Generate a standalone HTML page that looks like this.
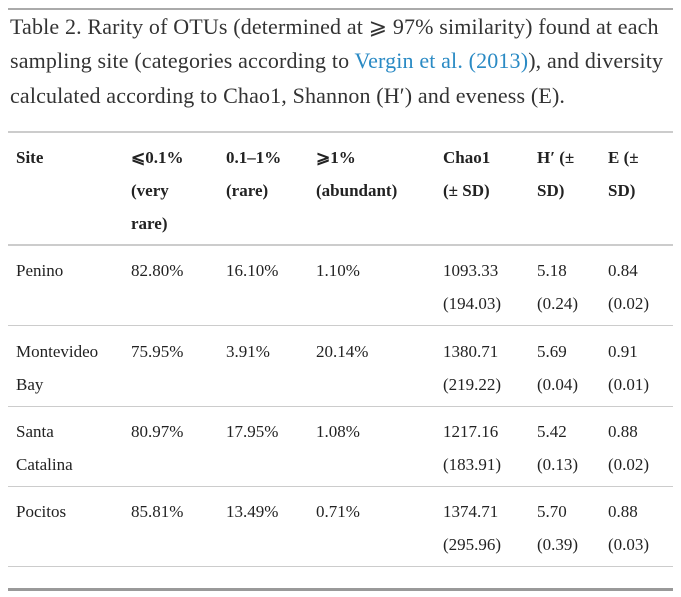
<!DOCTYPE html>
<html><head><meta charset="utf-8">
<style>
html,body{margin:0;padding:0;background:#fff;}
body{width:681px;height:597px;position:relative;overflow:hidden;font-family:"Liberation Serif",serif;color:#222;}
.t{position:absolute;white-space:nowrap;line-height:33px;height:33px;font-size:17px;}
.cap{position:absolute;left:10px;white-space:nowrap;font-size:22px;letter-spacing:0.15px;line-height:34px;color:#333;}
.h{font-weight:bold;}
.rule{position:absolute;left:8px;width:665px;}
a{color:#2a8ac4;text-decoration:none;}
</style></head><body>
<div class="rule" style="top:8px;height:2px;background:#aaa"></div>
<div class="cap" style="top:10px">Table 2. Rarity of OTUs (determined at ⩾ 97% similarity) found at each</div>
<div class="cap" style="top:44px">sampling site (categories according to <a href="#">Vergin et al. (2013)</a>), and diversity</div>
<div class="cap" style="top:79px">calculated according to Chao1, Shannon (H′) and eveness (E).</div>
<div class="rule" style="top:131px;height:2px;background:#ccc"></div>

<div class="t h" style="left:16px;top:141px">Site</div>
<div class="t h" style="left:131px;top:141px">⩽0.1%<br>(very<br>rare)</div>
<div class="t h" style="left:226px;top:141px">0.1–1%<br>(rare)</div>
<div class="t h" style="left:316px;top:141px">⩾1%<br>(abundant)</div>
<div class="t h" style="left:443px;top:141px">Chao1<br>(± SD)</div>
<div class="t h" style="left:537px;top:141px">H′ (±<br>SD)</div>
<div class="t h" style="left:608px;top:141px">E (±<br>SD)</div>
<div class="rule" style="top:244px;height:2px;background:#ccc"></div>

<div id="rows"></div>
<div class="rule" style="top:588px;height:3px;background:#999"></div>
<script>
const sites=[["Penino"],["Montevideo","Bay"],["Santa","Catalina"],["Pocitos"]];
const veryRare=["82.80%","75.95%","80.97%","85.81%"];
const rare=["16.10%","3.91%","17.95%","13.49%"];
const abundant=["1.10%","20.14%","1.08%","0.71%"];
const chao=["1093.33","1380.71","1217.16","1374.71"];
const chaoSD=["(194.03)","(219.22)","(183.91)","(295.96)"];
const hval=["5.18","5.69","5.42","5.70"];
const hSD=["(0.24)","(0.04)","(0.13)","(0.39)"];
const eval_=["0.84","0.91","0.88","0.88"];
const eSD=["(0.02)","(0.01)","(0.02)","(0.03)"];
const rowTops=[254,335,415,495];
const root=document.getElementById('rows');
function cell(name,x,y,html){
  const d=document.createElement('div');
  d.className='t';
  d.style.left=x+'px';d.style.top=y+'px';
  d.innerHTML=html;
  
  
  root.appendChild(d);
}
for(let i=0;i<4;i++){
  const y=rowTops[i];
  cell('site-'+i,16,y,sites[i].join('<br>'));
  cell('very-rare-'+i,131,y,veryRare[i]);
  cell('rare-'+i,226,y,rare[i]);
  cell('abundant-'+i,316,y,abundant[i]);
  cell('chao1-'+i,443,y,chao[i]+'<br>'+chaoSD[i]);
  cell('shannon-'+i,537,y,hval[i]+'<br>'+hSD[i]);
  cell('evenness-'+i,608,y,eval_[i]+'<br>'+eSD[i]);
  const r=document.createElement('div');
  r.className='rule';
  r.style.top=(y+71)+'px';r.style.height='1px';r.style.background='#ccc';
  
  
  root.appendChild(r);
}
</script>
</body></html>
